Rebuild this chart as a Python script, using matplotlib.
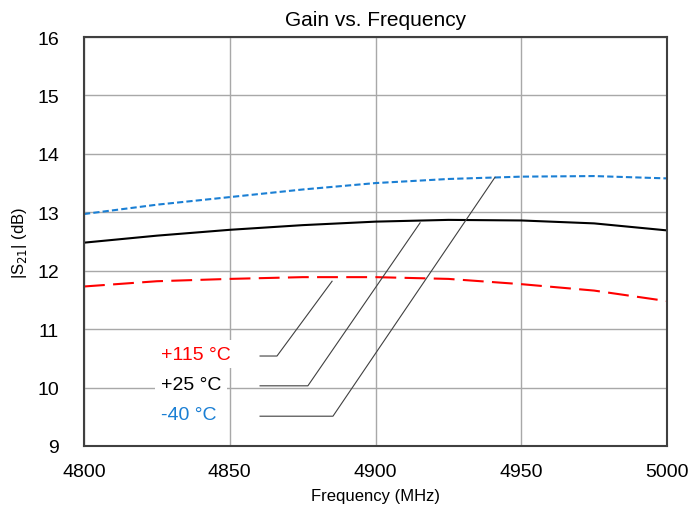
import matplotlib.pyplot as plt

plt.rcParams['font.family'] = ['Liberation Sans', 'DejaVu Sans']

freq = [4800, 4825, 4850, 4875, 4900, 4925, 4950, 4975, 5000]
s21_m40 = [12.97, 13.13, 13.26, 13.39, 13.50, 13.57, 13.61, 13.62, 13.58]
s21_p25 = [12.48, 12.60, 12.70, 12.78, 12.84, 12.87, 12.86, 12.81, 12.69]
s21_p115 = [11.73, 11.82, 11.86, 11.89, 11.89, 11.86, 11.77, 11.66, 11.48]

labels = ['+115 °C', '+25 °C', '-40 °C']
colors = ['#ff0000', '#000000', '#1a7fd4']
# label anchor (freq, dB) and the curve point the leader points to
label_pos = [(4860.4, 10.54), (4860.4, 10.03), (4860.4, 9.51)]
leader_knee = [4866.2, 4876.8, 4885.4]
leader_end = [(4885.1, 11.82), (4915.3, 12.82), (4941.0, 13.60)]

fig = plt.figure(figsize=(6.92, 5.10), dpi=100)
ax = fig.add_axes([84 / 692, 1 - 447 / 510, 583 / 692, 409 / 510])

ax.plot(freq, s21_p115, color=colors[0], lw=1.5, ls=(0, (10, 4)))
ax.plot(freq, s21_p25, color=colors[1], lw=1.5)
ax.plot(freq, s21_m40, color=colors[2], lw=1.5, ls=(0, (3, 1.5)))

for (lx, ly), kx, (ex, ey), lab, c in zip(label_pos, leader_knee, leader_end, labels, colors):
    ax.plot([lx, kx, ex], [ly, ly, ey], color='#404040', lw=0.8)
    ax.text(lx - 34, ly + 0.03, lab, color=c, fontsize=14, ha='left', va='center',
            bbox=dict(facecolor='white', edgecolor='none', pad=4))

ax.set_xlim(4800, 5000)
ax.set_ylim(9, 16)
ax.set_xticks(range(4800, 5001, 50))
ax.set_yticks(range(9, 17))
ax.grid(True, color='#a8a8a8', lw=1)
ax.set_axisbelow(True)
ax.tick_params(length=0, labelsize=14)
ax.tick_params(axis='y', pad=18)
ax.tick_params(axis='x', pad=12)
for s in ax.spines.values():
    s.set_color('#404040')
    s.set_linewidth(1.5)

ax.set_title('Gain vs. Frequency', fontsize=15, pad=9)
ax.set_xlabel('Frequency (MHz)', fontsize=12, labelpad=6)
ax.set_ylabel('|S$_{21}$| (dB)', fontsize=12, labelpad=6)

fig.savefig('out.png')
